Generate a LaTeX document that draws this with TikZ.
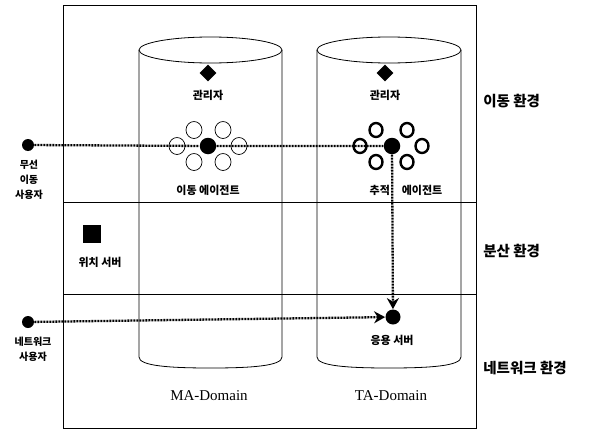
\documentclass[tikz,border=0pt]{standalone}
\usepackage{fontspec}
\setmainfont{Liberation Serif}
\newfontfamily\krfont{Noto Sans CJK KR}
\usepackage{tikz}
\usetikzlibrary{shapes.geometric, arrows.meta, positioning}
\tikzset{
  krlabel/.style={font=\krfont\bfseries\fontsize{11}{13}\selectfont, inner sep=0pt},
  userlabel/.style={font=\krfont\bfseries\fontsize{10}{15}\selectfont, align=center, inner sep=0pt},
  envlabel/.style={font=\krfont\bfseries\fontsize{14.5}{16}\selectfont, anchor=west, inner sep=0pt},
  domlabel/.style={font=\fontsize{15}{17}\selectfont, inner sep=0pt},
  userdot/.style={circle, fill=black, inner sep=0pt, minimum size=12pt},
  hubdot/.style={circle, fill=black, inner sep=0pt, minimum size=16.5pt},
  thinring/.style={ellipse, draw, line width=0.7pt, inner sep=0pt, minimum width=16pt, minimum height=17pt},
  thickring/.style={ellipse, draw, line width=2.4pt, inner sep=0pt, minimum width=13pt, minimum height=14pt},
  mgrmark/.style={diamond, fill=black, inner sep=0pt, minimum size=17pt},
  srvmark/.style={rectangle, fill=black, inner sep=0pt, minimum size=18pt},
  flow/.style={line width=2.3pt, dash pattern=on 2pt off 1pt},
  flowarrow/.style={flow, -{Stealth[length=11pt, width=12pt]}}
}
\begin{document}
\begin{tikzpicture}[x=1pt, y=-1pt, line width=0.8pt]
  \useasboundingbox (0,0) rectangle (589,431);

  % outer frame and environment bands
  \draw (63,5) rectangle (476,428);
  \draw (63,202) -- (476,202);
  \draw (63,294) -- (476,294);

  % MA-Domain cylinder
  \draw (139,50) -- (139,357) .. controls (139,366) and (170,368) .. (210.5,368)
        .. controls (251,368) and (282,366) .. (282,357) -- (282,50);
  \draw (210.5,50) ellipse [x radius=71.5pt, y radius=13pt];

  % TA-Domain cylinder
  \draw (317,50) -- (317,357) .. controls (317,366) and (348,368) .. (389,368)
        .. controls (430,368) and (461,366) .. (461,357) -- (461,50);
  \draw (389,50) ellipse [x radius=72pt, y radius=13pt];

  % managers
  \node[mgrmark] (mamgr) at (208,73) {};
  \node[krlabel] (mamgrlbl) at (208,95) {관리자};
  \node[mgrmark] (tamgr) at (385,73) {};
  \node[krlabel] (tamgrlbl) at (385,95) {관리자};

  % agents
  \node[hubdot] (maagent) at (208,146) {};
  \foreach \dx/\dy in {-14/-16, 15/-16, -31/0, 31/0, -14/16, 15/16}
    \node[thinring] at ([shift={(\dx,\dy)}]maagent) {};
  \node[krlabel] (maagentlbl) at (208,190) {이동 에이전트};

  \node[hubdot] (taagent) at (392,146) {};
  \foreach \dx/\dy in {-16/-16, 15/-16, -32/0, 30/0, -16/16, 15/16}
    \node[thickring] at ([shift={(\dx,\dy)}]taagent) {};
  \node[krlabel] (taagentlbl) at (406,190) {추적\hspace{12pt}에이전트};

  % servers
  \node[srvmark] (locsrv) at (92,234) {};
  \node[krlabel] (locsrvlbl) at (100,262) {위치 서버};
  \node[circle, fill=black, inner sep=0pt, minimum size=15pt] (appsrv) at (393,317) {};
  \node[krlabel] (appsrvlbl) at (392,340) {응용 서버};

  % users
  \node[userdot] (mobuser) at (28,145) {};
  \node[userlabel, below=8pt of mobuser, xshift=1pt] (mobuserlbl) {무선\\이동\\사용자};
  \node[userdot] (netuser) at (28,322) {};
  \node[userlabel, below=8pt of netuser, xshift=5pt] (netuserlbl) {네트워크\\사용자};

  % flows
  \draw[flow] (mobuser) -- (maagent) -- (taagent);
  \draw[flowarrow] (taagent) -- (appsrv);
  \draw[flowarrow] (netuser) -- (appsrv);

  % environments
  \node[envlabel] (mobenv) at (483,101) {이동 환경};
  \node[envlabel] (distenv) at (483,251) {분산 환경};
  \node[envlabel] (netenv) at (483,368) {네트워크 환경};

  % domains
  \node[domlabel] (madom) at (209,396) {MA-Domain};
  \node[domlabel] (tadom) at (391,396) {TA-Domain};
\end{tikzpicture}
\end{document}
